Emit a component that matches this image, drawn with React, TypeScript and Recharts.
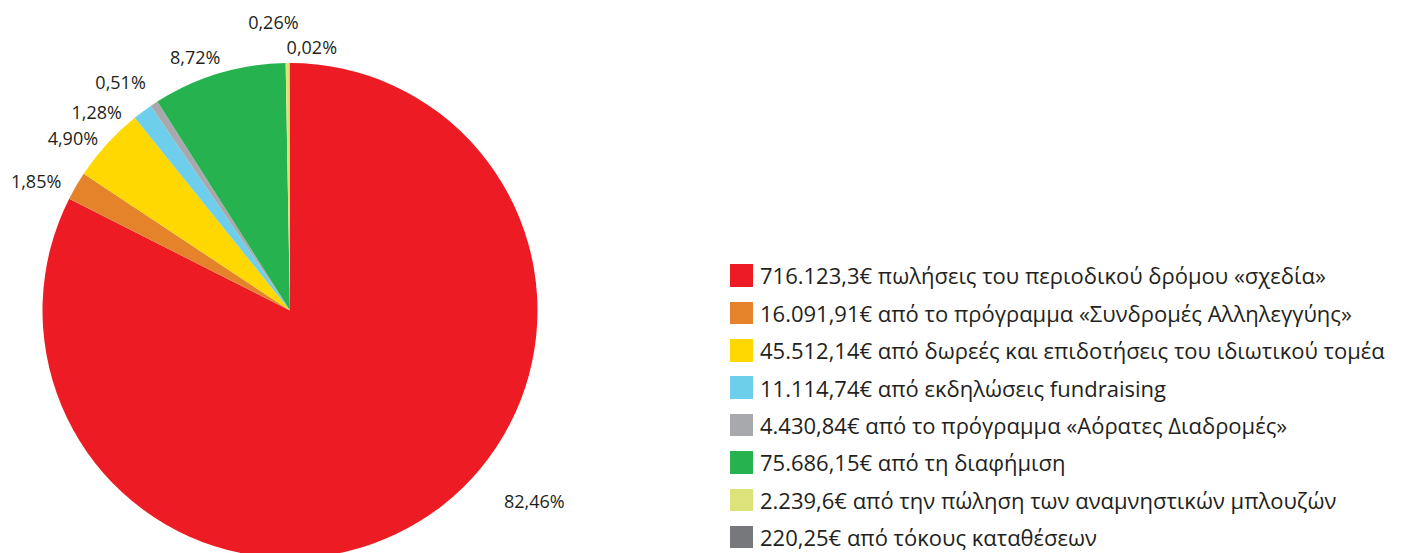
import React from 'react';
import { PieChart, Pie, Cell } from 'recharts';

const categories = [
  '716.123,3€ πωλήσεις του περιοδικού δρόμου «σχεδία»',
  '16.091,91€ από το πρόγραμμα «Συνδρομές Αλληλεγγύης»',
  '45.512,14€ από δωρεές και επιδοτήσεις του ιδιωτικού τομέα',
  '11.114,74€ από εκδηλώσεις fundraising',
  '4.430,84€ από το πρόγραμμα «Αόρατες Διαδρομές»',
  '75.686,15€ από τη διαφήμιση',
  '2.239,6€ από την πώληση των αναμνηστικών μπλουζών',
  '220,25€ από τόκους καταθέσεων',
];
const shares = [82.46, 1.85, 4.9, 1.28, 0.51, 8.72, 0.26, 0.02];
const shareLabels = ['82,46%', '1,85%', '4,90%', '1,28%', '0,51%', '8,72%', '0,26%', '0,02%'];

const colors = ['#ED1C24', '#E4832A', '#FED800', '#6DCFEB', '#A7A9AC', '#26B34F', '#DCE37A', '#77787B'];
// label nudges (layout only), relative to radial position
const labelNudge: [number, number][] = [
  [99, -46], [-14, 10], [-12, 14], [-28, 24], [-17, 3], [-15, 12], [-14, -11], [22, 14],
];

const data = categories.map((name, i) => ({ name, value: shares[i], label: shareLabels[i] }));

const FONT = '"Open Sans", "Noto Sans", sans-serif';

const renderLabel = (props: any) => {
  const { cx, cy, midAngle, outerRadius, index } = props;
  const RAD = Math.PI / 180;
  const r = outerRadius + 30;
  const x = cx + r * Math.cos(-midAngle * RAD) + labelNudge[index][0];
  const y = cy + r * Math.sin(-midAngle * RAD) + labelNudge[index][1];
  return (
    <text
      key={`lbl-${index}`}
      x={x}
      y={y}
      textAnchor="middle"
      dominantBaseline="central"
      fill="#231F20"
      style={{ fontFamily: FONT, fontSize: 18 }}
    >
      {shareLabels[index]}
    </text>
  );
};

export default function App() {
  return (
    <div style={{ width: 1408, height: 553, overflow: 'hidden', position: 'relative' }}>
      <style>{`body{margin:0;}`}</style>
      <PieChart width={1408} height={553} margin={{ top: 0, right: 0, bottom: 0, left: 0 }}>
        <Pie
          data={data}
          dataKey="value"
          nameKey="name"
          cx={290}
          cy={310.5}
          outerRadius={247.5}
          startAngle={90}
          endAngle={-270}
          stroke="none"
          label={renderLabel}
          labelLine={false}
          isAnimationActive={false}
        >
          {data.map((d, i) => (
            <Cell key={d.name} fill={colors[i]} />
          ))}
        </Pie>
      </PieChart>
      <div style={{ position: 'absolute', left: 730, top: 256.8, fontFamily: FONT }}>
        {categories.map((c, i) => (
          <div key={c} style={{ display: 'flex', alignItems: 'center', height: 37.4 }}>
            <span style={{ display: 'inline-block', flex: 'none', width: 23, height: 22.5, background: colors[i], marginRight: 7 }} />
            <span style={{ fontSize: 22, color: '#231F20', whiteSpace: 'nowrap' }}>{c}</span>
          </div>
        ))}
      </div>
    </div>
  );
}
